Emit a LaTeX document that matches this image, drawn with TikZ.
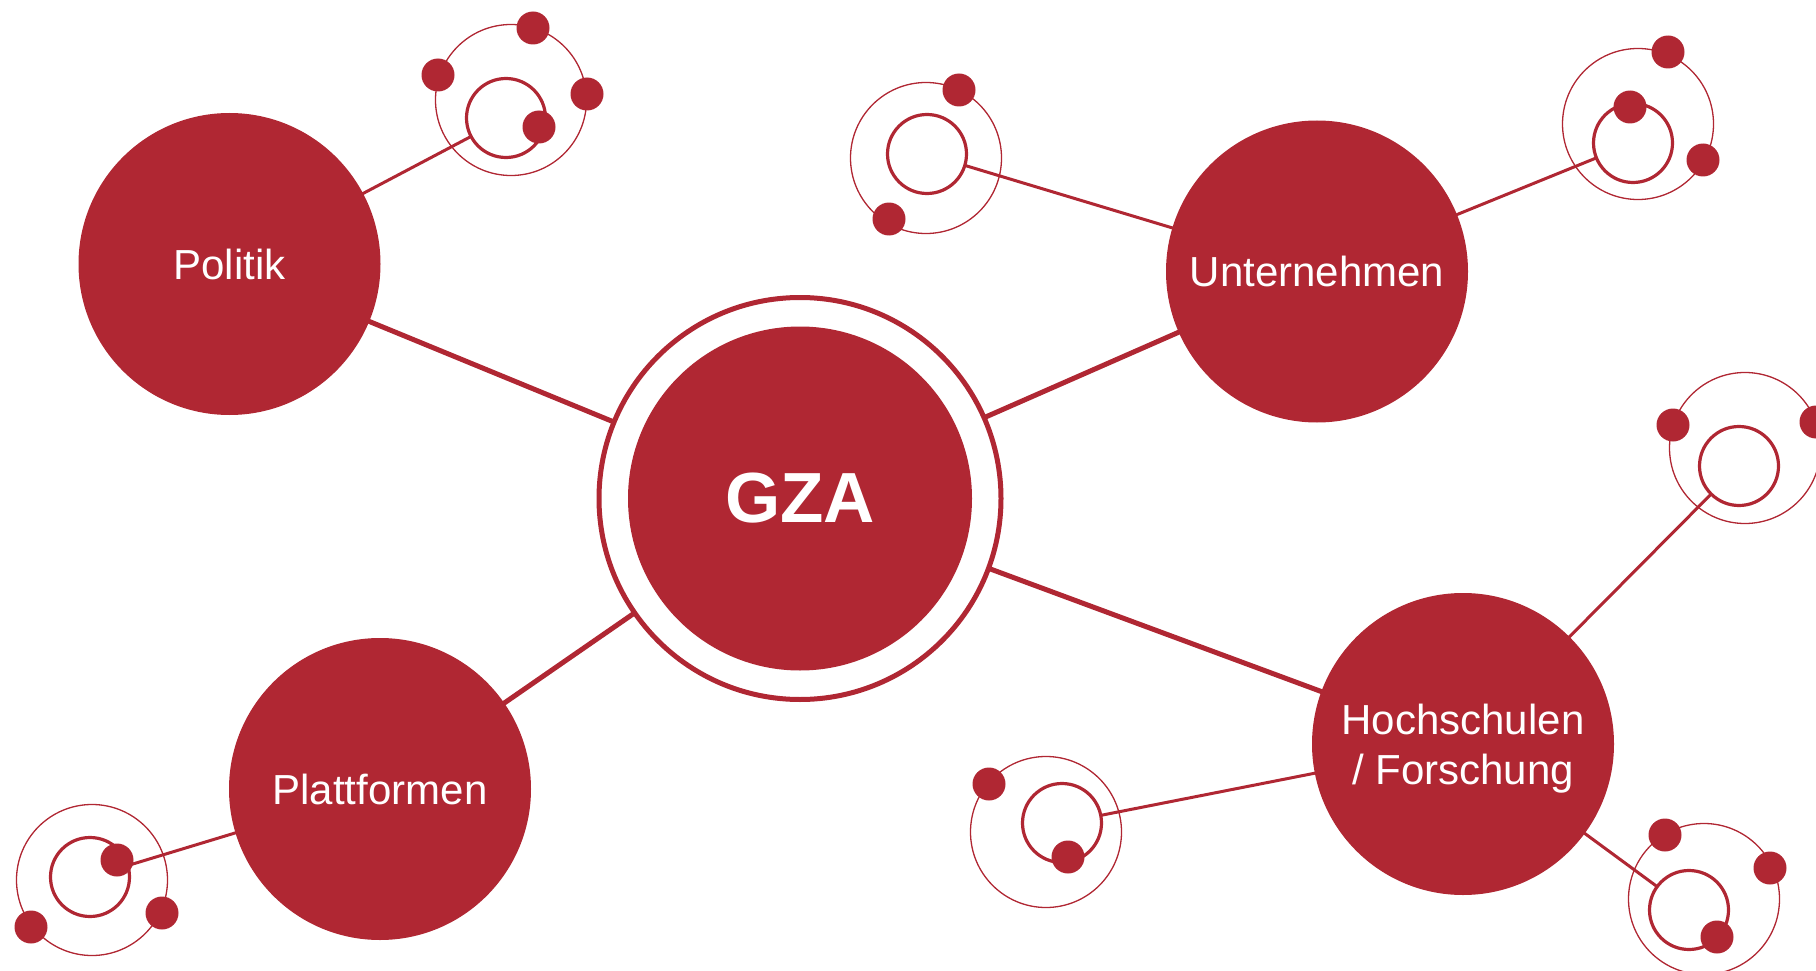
\documentclass[tikz,border=0pt]{standalone}
\usepackage{fontspec}
\setmainfont{Liberation Sans}
\usetikzlibrary{backgrounds}
\definecolor{gzared}{RGB}{176,39,51}
\begin{document}
\begin{tikzpicture}[x=1pt,y=-1pt,
  hub/.style={circle,fill=gzared,draw=none,minimum size=302pt,inner sep=0pt,
    text=white,font=\fontsize{42}{50}\selectfont,align=center},
  core/.style={circle,fill=gzared,draw=none,minimum size=344pt,inner sep=0pt,
    text=white,font=\fontsize{71}{80}\selectfont\bfseries},
  ring/.style={circle,draw=gzared,fill=white,line width=5pt,minimum size=402pt,inner sep=0pt},
  mainlink/.style={draw=gzared,line width=5pt},
  atomlink/.style={draw=gzared,line width=3pt},
  orbit/.style={circle,draw=gzared,line width=1.3pt,minimum size=151pt,inner sep=0pt},
  nucleus/.style={circle,draw=gzared,fill=white,line width=3.2pt,minimum size=79pt,inner sep=0pt},
  electron/.style={circle,fill=gzared,draw=none,minimum size=33pt,inner sep=0pt}]
\useasboundingbox (0,0) rectangle (1816,971);
\clip (0,0) rectangle (1816,971);

% main nodes
\node[ring] (gzaring) at (800,498.5) {};
\node[core] (gza) at (800,498.5) {GZA};
\node[hub] (politik) at (229.5,264) {Politik};
\node[hub] (unternehmen) at (1317,271.5) {Unternehmen};
\node[hub] (plattformen) at (380,789) {Plattformen};
\node[hub] (hochschulen) at (1463,744) {};
\node[text=white,font=\fontsize{42}{50}\selectfont,align=center,inner sep=0pt]
  (hochtext) at (1463,749) {Hochschulen\\/ Forschung};

% atom 1 (Politik)
\node[orbit] (o1) at (511,100) {};
\node[nucleus] (a1) at (506,118) {};
\node[electron] (e1a) at (533,28) {};
\node[electron] (e1b) at (438,75) {};
\node[electron] (e1c) at (587,94) {};
\node[electron] (e1d) at (539,127) {};

% atom 2 (Unternehmen)
\node[orbit] (o2) at (926,158) {};
\node[nucleus] (a2) at (927,154) {};
\node[electron] (e2a) at (959,90) {};
\node[electron] (e2b) at (889,219) {};

% atom 3 (Unternehmen)
\node[orbit] (o3) at (1638,124) {};
\node[nucleus] (a3) at (1633,143) {};
\node[electron] (e3a) at (1668,52) {};
\node[electron] (e3b) at (1630,107) {};
\node[electron] (e3c) at (1703,160) {};

% atom 4 (Hochschulen)
\node[orbit] (o4) at (1745,448) {};
\node[nucleus] (a4) at (1739,466) {};
\node[electron] (e4a) at (1673,425) {};
\node[electron] (e4b) at (1816,422) {};

% atom 5 (Plattformen)
\node[orbit] (o5) at (92,880) {};
\node[nucleus] (a5) at (90,877) {};
\node[electron] (e5a) at (117,860) {};
\node[electron] (e5b) at (162,913) {};
\node[electron] (e5c) at (31,927) {};

% atom 6 (Hochschulen)
\node[orbit] (o6) at (1046,832) {};
\node[nucleus] (a6) at (1062,823) {};
\node[electron] (e6a) at (989,784) {};
\node[electron] (e6b) at (1068,857) {};

% atom 7 (Hochschulen)
\node[orbit] (o7) at (1704,899) {};
\node[nucleus] (a7) at (1689,910) {};
\node[electron] (e7a) at (1665,835) {};
\node[electron] (e7b) at (1770,868) {};
\node[electron] (e7c) at (1717,937) {};

\begin{pgfonlayer}{background}
  \draw[mainlink] (gza.center) -- (politik.center);
  \draw[mainlink] (gza.center) -- (unternehmen.center);
  \draw[mainlink] (gza.center) -- (plattformen.center);
  \draw[mainlink] (gza.center) -- (hochschulen.center);
  \draw[atomlink] (politik.center) -- (a1.center);
  \draw[atomlink] (unternehmen.center) -- (a2.center);
  \draw[atomlink] (unternehmen.center) -- (a3.center);
  \draw[atomlink] (hochschulen.center) -- (a4.center);
  \draw[atomlink] (plattformen.center) -- (a5.center);
  \draw[atomlink] (hochschulen.center) -- (a6.center);
  \draw[atomlink] (hochschulen.center) -- (a7.center);
\end{pgfonlayer}
\end{tikzpicture}
\end{document}
